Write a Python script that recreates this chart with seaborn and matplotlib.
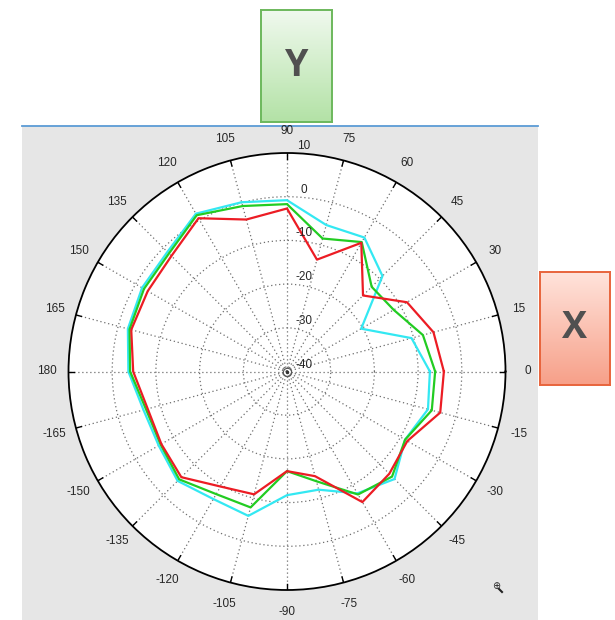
import numpy as np
import pandas as pd
import matplotlib
matplotlib.use("Agg")
import matplotlib.pyplot as plt
import seaborn as sns
from matplotlib.patches import Rectangle
from matplotlib.lines import Line2D
from matplotlib.colors import LinearSegmentedColormap

# angles in degrees, 0..345 step 15
angles = [0, 15, 30, 45, 60, 75, 90, 105, 120, 135, 150, 165,
          180, 195, 210, 225, 240, 255, 270, 285, 300, 315, 330, 345]
red = [-4.1, -5.3, -8.3, -15.4, -6.0, -13.5, -2.7, -4.0, 0.5, -2.6, -3.2, -3.1,
       -4.8, -7.0, -6.8, -5.8, -9.6, -10.9, -17.2, -15.2, -5.5, -6.9, -8.2, -3.7]
green = [-6.1, -7.8, -11.8, -12.6, -5.8, -8.5, -1.7, -0.8, 1.3, -1.8, -2.2, -2.7,
         -4.1, -6.6, -6.6, -5.1, -7.6, -7.8, -17.2, -14.0, -7.5, -6.0, -8.8, -5.7]
cyan = [-7.3, -10.5, -20.4, -9.1, -4.6, -5.3, -0.8, 0.1, 1.7, -1.3, -1.7, -2.3,
        -3.7, -6.0, -6.1, -4.6, -6.3, -5.8, -11.7, -12.0, -7.8, -5.2, -8.8, -6.6]

angle_labels = ["0", "15", "30", "45", "60", "75", "90", "105", "120", "135", "150", "165",
                "180", "-165", "-150", "-135", "-120", "-105", "-90", "-75", "-60", "-45", "-30", "-15"]
r_ticks = [10, 0, -10, -20, -30, -40]
r_min, r_max = -40, 10

plt.rcParams['font.family'] = ['Liberation Sans', 'DejaVu Sans']

W, H = 615, 620
fig = plt.figure(figsize=(W / 100, H / 100), dpi=100, facecolor="white")

# grey panel behind the polar plot, with blue top rule
fig.patches.append(Rectangle((22 / W, 0), (538 - 22) / W, 1 - 126 / H,
                             transform=fig.transFigure, facecolor="#e6e6e6",
                             edgecolor="none", zorder=-5))
fig.add_artist(Line2D([22 / W, 538 / W], [1 - 126 / H, 1 - 126 / H],
                      color="#5b9bd5", lw=1.3, transform=fig.transFigure, zorder=-4))

# polar axes: centre (287, 371.5), radius 218.5 px
cx, cy, R = 287, 371.5, 218.5
ax = fig.add_axes([(cx - R) / W, 1 - (cy + R) / H, 2 * R / W, 2 * R / H],
                  projection="polar")
ax.set_zorder(2)
ax.set_facecolor("white")
ax.set_theta_zero_location("E")
ax.set_ylim(r_min, r_max)

rows = []
for name, vals in [("cyan", cyan), ("green", green), ("red", red)]:
    for a, v in zip(angles + [angles[0]], vals + [vals[0]]):
        rows.append({"series": name, "theta": np.deg2rad(a), "gain": v})
df = pd.DataFrame(rows)

sns.lineplot(data=df, x="theta", y="gain", hue="series", sort=False, estimator=None,
             palette={"red": "#ec1c24", "green": "#22cc22", "cyan": "#33e8f2"},
             linewidth=1.6, legend=False, ax=ax)
ax.set_xlabel("")
ax.set_ylabel("")
ax.set_ylim(r_min, r_max)

ax.set_thetagrids(angles, labels=[""] * len(angles))
ax.set_rgrids([-30, -20, -10, 0], labels=[""] * 4)
ax.grid(True, color="#6e6e6e", linestyle=(0, (1, 2.2)), linewidth=0.9)
ax.spines["polar"].set_color("black")
ax.spines["polar"].set_linewidth(1.3)
ax.tick_params(axis="both", length=0)

# short inward ticks on the outer ring at every spoke
for a in angles:
    t = np.deg2rad(a)
    ax.plot([t, t], [r_max - 1.3, r_max], color="black", lw=1.0, zorder=3)

for a, lab in zip(angles, angle_labels):
    ax.text(np.deg2rad(a), 15, lab, ha="center", va="center", fontsize=8.5, color="#262626")
for r in r_ticks:
    ax.annotate(str(r), xy=(np.pi / 2, r), xytext=(17, 7), textcoords="offset pixels",
                ha="center", va="center", fontsize=8.5, color="#262626")

# bullseye at the centre
ax.plot([0], [r_min], marker="o", ms=6, mfc="none", mec="#555555", mew=0.8, clip_on=False)
ax.plot([0], [r_min], marker="o", ms=1.5, color="#333333", clip_on=False)


def gradient_box(x0, y0, x1, y1, top, bottom, edge, letter):
    bx = fig.add_axes([x0 / W, 1 - y1 / H, (x1 - x0) / W, (y1 - y0) / H])
    cmap = LinearSegmentedColormap.from_list("g", [top, bottom])
    bx.imshow(np.linspace(0, 1, 100).reshape(-1, 1), cmap=cmap, aspect="auto",
              extent=[0, 1, 0, 1], origin="upper")
    bx.set_xticks([])
    bx.set_yticks([])
    for s in bx.spines.values():
        s.set_color(edge)
        s.set_linewidth(1.4)
    bx.text(0.5, 0.5, letter, ha="center", va="center", fontsize=27,
            fontweight="bold", color="#505050", family=["Open Sans", "DejaVu Sans"],
            transform=bx.transAxes)


gradient_box(261, 10, 332, 122, "#f0f9ee", "#b3e2a6", "#6cb85c", "Y")
gradient_box(540, 272, 610, 385, "#ffe3db", "#f7a089", "#e8643c", "X")

# zoom icon
fig.text(496 / W, 1 - 586 / H, "\u2295", fontsize=7, ha="center", va="center", color="#222222")
fig.add_artist(Line2D([499 / W, 502 / W], [1 - 589 / H, 1 - 592 / H], color="#222222",
                      lw=1.5, transform=fig.transFigure))

fig.savefig("out.png", dpi=100, facecolor="white")
